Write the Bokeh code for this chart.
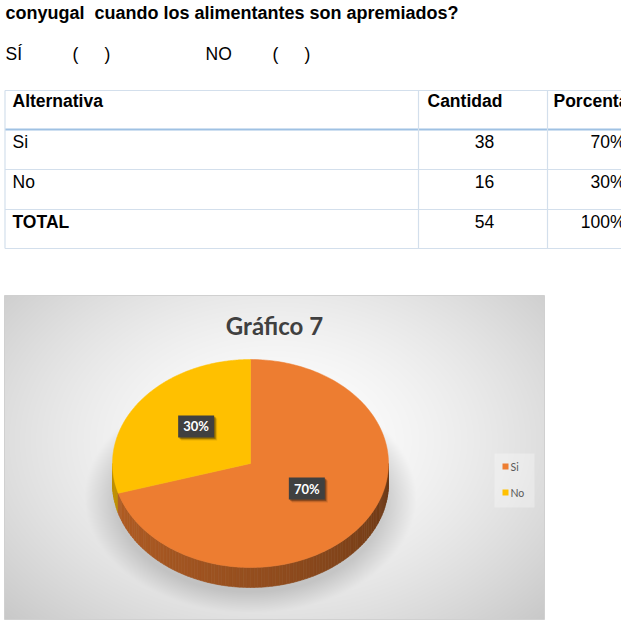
import numpy as np
from bokeh.plotting import figure
from bokeh.models import Range1d
from bokeh.core.properties import value
from bokeh.embed import file_html
from bokeh.resources import INLINE

# ---------------- data ----------------
question = "conyugal  cuando los alimentantes son apremiados?"
options_line = ["SÍ", "(", ")", "NO", "(", ")"]
headers = ["Alternativa", "Cantidad", "Porcentaje"]
alternativas = ["Si", "No", "TOTAL"]
cantidades = [38, 16, 54]
porcentajes = ["70%", "30%", "100%"]
chart_title = "Gráfico 7"
pie_labels = ["Si", "No"]
pie_values = [38, 16]
pie_pct = ["70%", "30%"]
pie_colors = ["#ED7D31", "#FFC000"]

# ---------------- layout ----------------
W, H = 621, 626
def Y(v):
    return H - v

DOC_FONT = value("Liberation Sans")
CH_FONT = value("Lato")

p = figure(width=W, height=H, x_range=Range1d(0, W), y_range=Range1d(0, H),
           output_backend="svg", toolbar_location=None, min_border=0,
           x_axis_location=None, y_axis_location=None)
p.grid.visible = False
p.outline_line_color = None
p.background_fill_color = "white"
p.border_fill_color = "white"

# ---- document text ----
p.text(x=[5], y=[Y(12)], text=[question.replace("  ", " \u00a0")], text_font=DOC_FONT,
       text_font_style="bold", text_font_size="18px", text_baseline="middle", text_color="black")
opt_x = [5, 72, 104, 205, 272, 304]
p.text(x=opt_x, y=[Y(53)] * len(opt_x), text=options_line, text_font=DOC_FONT,
       text_font_size="17.5px", text_baseline="middle", text_color="black")

# ---- table ----
row_tops = [90, 129, 169, 209, 248]
col_x = [4.5, 418, 547]
thin = "#d3dfec"
hl = [row_tops[0], row_tops[2], row_tops[3], row_tops[4]]
p.segment(x0=[4.5] * len(hl), x1=[W + 5] * len(hl), y0=[Y(v) for v in hl], y1=[Y(v) for v in hl],
          line_color=thin, line_width=1.2)
p.segment(x0=[4.5], x1=[W + 5], y0=[Y(row_tops[1])], y1=[Y(row_tops[1])],
          line_color="#9fc1e3", line_width=2.2)
p.segment(x0=col_x, x1=col_x, y0=[Y(row_tops[0])] * 3, y1=[Y(row_tops[-1])] * 3,
          line_color=thin, line_width=1.2)

p.text(x=[12, 427, 553], y=[Y(100)] * 3, text=headers, text_font=DOC_FONT, text_font_style="bold",
       text_font_size="17.5px", text_baseline="middle", text_color="black")
row_y = [Y(141), Y(181), Y(221)]
p.text(x=[12, 12], y=row_y[:2], text=alternativas[:2], text_font=DOC_FONT,
       text_font_size="17.5px", text_baseline="middle", text_color="black")
p.text(x=[12], y=row_y[2:], text=alternativas[2:], text_font=DOC_FONT, text_font_style="bold",
       text_font_size="17.5px", text_baseline="middle", text_color="black")
p.text(x=[484] * 3, y=row_y, text=[str(c) for c in cantidades], text_font=DOC_FONT,
       text_font_size="17.5px", text_baseline="middle", text_align="center", text_color="black")
p.text(x=[625] * 3, y=row_y, text=porcentajes, text_font=DOC_FONT,
       text_font_size="17.5px", text_baseline="middle", text_align="right", text_color="black")

# ---- chart area background (radial gradient + soft shadow) ----
bx0, bx1, by0, by1 = 4, 544, 295, 619
bw, bh = bx1 - bx0, by1 - by0
cx, cy, rx, ry, depth = 250, 463, 138, 104, 20

jj, ii = np.mgrid[0:bh, 0:bw]
pix_y = by1 - jj - 0.5
pix_x = bx0 + ii + 0.5
t = np.sqrt(((pix_x - 275) / 330.0) ** 2 + ((pix_y - 440) / 230.0) ** 2)
val = 255 - 45 * np.clip(t, 0, 1.4) ** 1.6
d = np.sqrt(((pix_x - cx) / 152.0) ** 2 + ((pix_y - 497) / 106.0) ** 2)
shadow = 0.16 * np.clip((1.09 - d) / 0.2, 0, 1)
val = val * (1 - shadow)
val = np.clip(val, 0, 255).astype(np.uint8)
img = np.empty((bh, bw), dtype=np.uint32)
view = img.view(dtype=np.uint8).reshape((bh, bw, 4))
view[..., 0] = val
view[..., 1] = val
view[..., 2] = val
view[..., 3] = 255
p.image_rgba(image=[img], x=bx0, y=Y(by1), dw=bw, dh=bh)
p.quad(left=[bx0], right=[bx1], bottom=[Y(by1)], top=[Y(by0)], fill_color=None,
       line_color="#d0d0d0", line_width=1)

# ---- pie geometry from data ----
total = float(sum(pie_values))
fracs = [v / total for v in pie_values]
start = 90.0
bounds = []
acc = 0.0
for f in fracs:
    a0 = start - acc * 360.0
    a1 = start - (acc + f) * 360.0
    bounds.append((a0, a1))
    acc += f

def ept(theta_deg, drop=0.0):
    th = np.radians(theta_deg)
    return cx + rx * np.cos(th), Y(cy + drop) + ry * np.sin(th)

def owner(theta):
    for k, (a0, a1) in enumerate(bounds):
        for off in (0, 360, -360):
            if a1 <= theta + off <= a0:
                return k
    return 0

def hexc(rgb):
    return "#%02x%02x%02x" % tuple(int(max(0, min(255, c))) for c in rgb)

def to_rgb(h):
    h = h.lstrip("#")
    return [int(h[i:i + 2], 16) for i in (0, 2, 4)]

# side (front half)
n = 120
side_xs, side_ys, side_cols = [], [], []
thetas = np.linspace(-180, 0, n + 1)
for k in range(n):
    t0, t1 = thetas[k], thetas[k + 1]
    x0, y0 = ept(t0)
    x1, y1 = ept(t1)
    x2, y2 = ept(t1, depth)
    x3, y3 = ept(t0, depth)
    side_xs.append([x0, x1, x2, x3])
    side_ys.append([y0, y1, y2, y3])
    u = (k + 0.5) / n
    shade = 0.76 - 0.32 * u ** 1.3
    base = to_rgb(pie_colors[owner((t0 + t1) / 2)])
    side_cols.append(hexc([c * shade for c in base]))
p.patches(xs=side_xs, ys=side_ys, fill_color=side_cols, line_color=side_cols, line_width=0.6)

# top faces
top_xs, top_ys = [], []
for (a0, a1) in bounds:
    angs = np.linspace(a0, a1, 200)
    xs = [cx] + [ept(a)[0] for a in angs]
    ys = [Y(cy)] + [ept(a)[1] for a in angs]
    top_xs.append(xs)
    top_ys.append(ys)
p.patches(xs=top_xs, ys=top_ys, fill_color=pie_colors, line_color=pie_colors, line_width=0.5)

# data labels
lab_x, lab_y = [], []
for (a0, a1) in bounds:
    mid = np.radians((a0 + a1) / 2)
    lab_x.append(cx + 0.5 * rx * np.cos(mid) + 1)
    lab_y.append(Y(cy - 6) + 0.5 * ry * np.sin(mid))
for off, al in ((3, 0.10), (2, 0.18), (1.2, 0.25)):
    p.rect(x=[x + off for x in lab_x], y=[y - off for y in lab_y], width=36, height=22,
           fill_color="black", fill_alpha=al, line_color=None)
p.rect(x=lab_x, y=lab_y, width=36, height=22, fill_color="#404040", line_color=None)
p.text(x=lab_x, y=lab_y, text=pie_pct, text_font=CH_FONT, text_font_style="bold",
       text_font_size="13px", text_color="white", text_align="center", text_baseline="middle")

# title
p.text(x=[274], y=[Y(325)], text=[chart_title], text_font=CH_FONT, text_font_style="bold",
       text_font_size="24px", text_color="#404040", text_align="center", text_baseline="middle")

# legend
p.quad(left=[494], right=[534], bottom=[Y(507)], top=[Y(453)], fill_color="white",
       fill_alpha=0.3, line_color=None)
leg_y = [Y(466), Y(492)]
p.rect(x=[505, 505], y=leg_y, width=6, height=6, fill_color=pie_colors, line_color=None)
p.text(x=[510, 510], y=leg_y, text=pie_labels, text_font=CH_FONT, text_font_size="10.5px",
       text_color="#595959", text_baseline="middle")

open("out.html", "w").write(file_html(p, INLINE))
